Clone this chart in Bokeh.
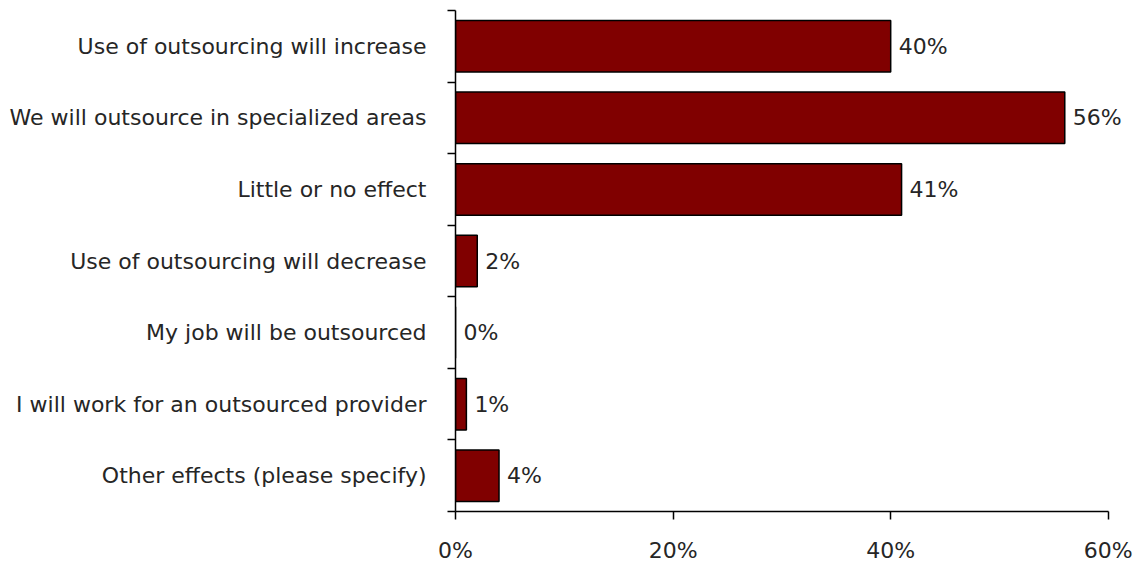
from bokeh.plotting import figure
from bokeh.models import Range1d, FixedTicker, ColumnDataSource, LabelSet
from bokeh.core.properties import value
from bokeh.embed import file_html
from bokeh.resources import INLINE

categories = [
    "Use of outsourcing will increase",
    "We will outsource in specialized areas",
    "Little or no effect",
    "Use of outsourcing will decrease",
    "My job will be outsourced",
    "I will work for an outsourced provider",
    "Other effects (please specify)",
]
values = [40, 56, 41, 2, 0, 1, 4]
x_ticks = [0, 20, 40, 60]

n = len(categories)
ypos = [n - 0.5 - i for i in range(n)]
labels = [f"{v}%" for v in values]
src = ColumnDataSource(dict(y=ypos, v=values, lab=labels))

FONT = "DejaVu Sans"
FS = "22px"
TXT = "#262626"

p = figure(frame_width=680, frame_height=501, output_backend="svg", toolbar_location=None,
           x_range=Range1d(0, 62.5), y_range=Range1d(0, n),
           min_border_left=455, min_border_right=3, min_border_top=10, min_border_bottom=52)
p.outline_line_color = None
p.grid.visible = False
p.background_fill_color = "white"
p.border_fill_color = "white"

p.hbar(y="y", right="v", left=0, height=0.72, source=src,
       fill_color="#800000", line_color="black", line_width=1.5)

ls = LabelSet(x="v", y="y", text="lab", source=src, x_offset=8, y_offset=0,
              text_baseline="middle", text_align="left",
              text_font=value(FONT), text_font_size=FS, text_color=TXT)
p.add_layout(ls)

# y axis
p.yaxis.ticker = FixedTicker(ticks=ypos, minor_ticks=list(range(n + 1)))
p.yaxis.major_label_overrides = {y: c for y, c in zip(ypos, categories)}
p.yaxis.major_tick_out = 0
p.yaxis.major_tick_in = 0
p.yaxis.minor_tick_out = 8
p.yaxis.minor_tick_in = 0
p.yaxis.minor_tick_line_color = "black"
p.yaxis.minor_tick_line_width = 1.5
p.yaxis.axis_line_color = "black"
p.yaxis.axis_line_width = 1.5
p.yaxis.major_label_standoff = 21
p.yaxis.major_label_text_font = FONT
p.yaxis.major_label_text_font_size = FS
p.yaxis.major_label_text_color = TXT

# x axis
p.xaxis.ticker = FixedTicker(ticks=x_ticks)
p.xaxis.bounds = (0, 60)
p.xaxis.major_label_overrides = {t: f"{t}%" for t in x_ticks}
p.xaxis.major_tick_out = 8
p.xaxis.major_tick_in = 0
p.xaxis.minor_tick_out = 0
p.xaxis.minor_tick_in = 0
p.xaxis.major_tick_line_color = "black"
p.xaxis.major_tick_line_width = 1.5
p.xaxis.axis_line_color = "black"
p.xaxis.axis_line_width = 1.5
p.xaxis.major_label_standoff = 18
p.xaxis.major_label_text_font = FONT
p.xaxis.major_label_text_font_size = FS
p.xaxis.major_label_text_color = TXT

open("out.html", "w").write(file_html(p, INLINE))
